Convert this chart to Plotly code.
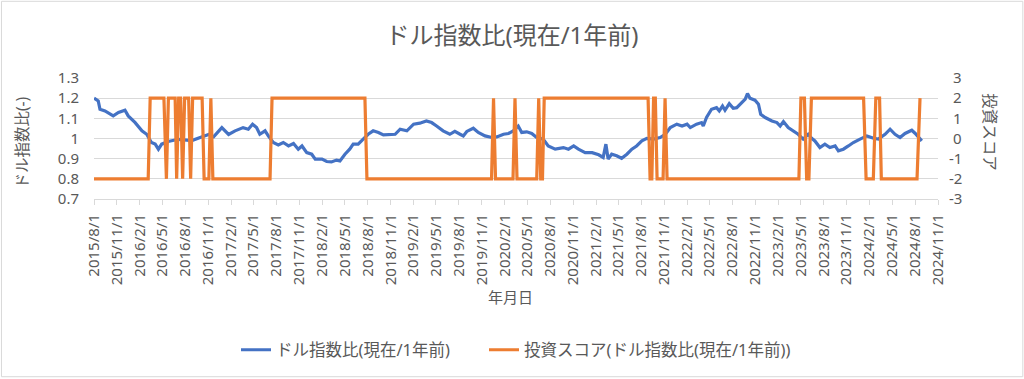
import plotly.graph_objects as go

# ---- data ----
ratio_dates = [
    "2015-08-01", "2015-08-18", "2015-08-25", "2015-09-14", "2015-10-17", "2015-11-07",
    "2015-12-03", "2015-12-16", "2016-01-12", "2016-02-09", "2016-02-28", "2016-03-18",
    "2016-04-02", "2016-04-15", "2016-04-28", "2016-05-24", "2016-07-04", "2016-08-27",
    "2016-09-29", "2016-11-02", "2016-11-22", "2016-12-25", "2017-01-21", "2017-02-16",
    "2017-03-20", "2017-04-10", "2017-04-27", "2017-05-13", "2017-05-26", "2017-06-16",
    "2017-06-29", "2017-07-19", "2017-08-08", "2017-08-28", "2017-09-18", "2017-10-08",
    "2017-10-27", "2017-11-11", "2017-11-30", "2017-12-20", "2018-01-03", "2018-01-30",
    "2018-02-18", "2018-03-09", "2018-03-29", "2018-04-12", "2018-05-02", "2018-05-21",
    "2018-06-04", "2018-06-24", "2018-07-14", "2018-08-03", "2018-08-23", "2018-09-13",
    "2018-10-03", "2018-10-30", "2018-11-19", "2018-12-09", "2019-01-05", "2019-02-01",
    "2019-02-26", "2019-03-24", "2019-04-14", "2019-05-04", "2019-05-30", "2019-06-26",
    "2019-07-16", "2019-08-06", "2019-08-19", "2019-09-02", "2019-09-28", "2019-10-18",
    "2019-11-14", "2019-12-11", "2019-12-31", "2020-01-27", "2020-02-16", "2020-03-06",
    "2020-03-26", "2020-04-09", "2020-04-29", "2020-05-19", "2020-06-08", "2020-07-04",
    "2020-07-24", "2020-08-21", "2020-09-23", "2020-10-13", "2020-11-03", "2020-11-22",
    "2020-12-19", "2021-01-16", "2021-02-11", "2021-03-01", "2021-03-12", "2021-03-21",
    "2021-04-04", "2021-04-24", "2021-05-14", "2021-06-04", "2021-06-24", "2021-07-13",
    "2021-08-03", "2021-08-23", "2021-09-19", "2021-10-15", "2021-11-05", "2021-11-25",
    "2021-12-21", "2022-01-11", "2022-01-31", "2022-02-13", "2022-03-10", "2022-03-30",
    "2022-04-06", "2022-04-19", "2022-05-09", "2022-05-29", "2022-06-09", "2022-06-22",
    "2022-07-02", "2022-07-19", "2022-08-04", "2022-08-18", "2022-09-08", "2022-09-21",
    "2022-09-30", "2022-10-10", "2022-10-30", "2022-11-13", "2022-11-22", "2022-12-10",
    "2023-01-06", "2023-01-26", "2023-02-08", "2023-02-21", "2023-03-12", "2023-04-01",
    "2023-04-21", "2023-05-11", "2023-05-31", "2023-06-14", "2023-06-27", "2023-07-17",
    "2023-08-06", "2023-08-26", "2023-09-16", "2023-09-29", "2023-10-19", "2023-11-08",
    "2023-11-28", "2023-12-25", "2024-01-21", "2024-02-17", "2024-03-07", "2024-04-03",
    "2024-04-23", "2024-05-13", "2024-06-02", "2024-06-22", "2024-07-19", "2024-08-02",
    "2024-08-15", "2024-08-28",
]
ratio_values = [
    1.200, 1.186, 1.145, 1.137, 1.112, 1.129,
    1.140, 1.112, 1.080, 1.038, 1.021, 0.980,
    0.972, 0.947, 0.972, 0.985, 0.996, 0.990,
    1.005, 1.020, 1.008, 1.054, 1.020, 1.038,
    1.054, 1.046, 1.071, 1.054, 1.021, 1.038,
    1.013, 0.980, 0.968, 0.980, 0.963, 0.975,
    0.947, 0.963, 0.930, 0.922, 0.898, 0.898,
    0.886, 0.884, 0.893, 0.889, 0.922, 0.947,
    0.972, 0.972, 0.997, 1.021, 1.038, 1.030,
    1.018, 1.021, 1.021, 1.046, 1.038, 1.071,
    1.076, 1.087, 1.079, 1.062, 1.038, 1.021,
    1.035, 1.021, 1.013, 1.035, 1.051, 1.030,
    1.013, 1.005, 1.008, 1.021, 1.025, 1.038,
    1.062, 1.030, 1.033, 1.025, 1.005, 0.997,
    0.963, 0.947, 0.955, 0.947, 0.963, 0.947,
    0.930, 0.930, 0.919, 0.906, 0.972, 0.898,
    0.922, 0.914, 0.902, 0.922, 0.947, 0.963,
    0.988, 1.001, 0.997, 1.005, 1.021, 1.054,
    1.071, 1.062, 1.071, 1.054, 1.071, 1.079,
    1.062, 1.104, 1.145, 1.153, 1.137, 1.161,
    1.140, 1.173, 1.150, 1.153, 1.178, 1.195,
    1.223, 1.200, 1.190, 1.170, 1.120, 1.104,
    1.087, 1.079, 1.062, 1.084, 1.054, 1.038,
    1.021, 0.997, 1.021, 1.001, 0.988, 0.955,
    0.972, 0.955, 0.963, 0.939, 0.947, 0.963,
    0.980, 0.997, 1.013, 1.001, 0.997, 1.021,
    1.046, 1.021, 1.005, 1.025, 1.041, 1.025,
    1.005, 0.988,
]

score_dates = [
    "2015-08-01", "2016-03-05", "2016-03-13", "2016-05-07", "2016-05-17", "2016-05-25",
    "2016-06-21", "2016-06-27", "2016-07-05", "2016-07-13", "2016-07-21", "2016-07-29",
    "2016-08-14", "2016-08-22", "2016-08-30", "2016-10-07", "2016-10-15", "2016-11-03",
    "2016-11-11", "2016-11-19", "2017-07-06", "2017-07-14", "2018-07-21", "2018-07-29",
    "2019-12-10", "2019-12-18", "2019-12-26", "2020-03-05", "2020-03-13", "2020-03-21",
    "2020-06-08", "2020-06-16", "2020-06-24", "2020-07-01", "2020-07-08", "2021-08-28",
    "2021-09-05", "2021-09-12", "2021-09-19", "2021-09-26", "2021-10-03", "2021-10-27",
    "2021-11-04", "2021-11-12", "2023-04-24", "2023-05-02", "2023-05-16", "2023-05-25",
    "2023-06-03", "2023-06-13", "2024-01-08", "2024-01-18", "2024-02-16", "2024-02-26",
    "2024-03-12", "2024-03-19", "2024-08-09", "2024-08-21",
]
score_values = [
    -2, -2, 2, 2, -2, 2,
    2, -2, 2, 2, -2, 2,
    2, -2, 2, 2, -2, -2,
    2, -2, -2, 2, 2, -2,
    -2, 2, -2, -2, 2, -2,
    -2, 2, -2, -2, 2, 2,
    -2, -2, 2, 2, -2, -2,
    2, -2, -2, 2, 2, -2,
    -2, 2, 2, -2, -2, 2,
    2, -2, -2, 2,
]

x_tick_dates = [
    "2015-08-01", "2015-11-01", "2016-02-01", "2016-05-01", "2016-08-01", "2016-11-01",
    "2017-02-01", "2017-05-01", "2017-08-01", "2017-11-01", "2018-02-01", "2018-05-01",
    "2018-08-01", "2018-11-01", "2019-02-01", "2019-05-01", "2019-08-01", "2019-11-01",
    "2020-02-01", "2020-05-01", "2020-08-01", "2020-11-01", "2021-02-01", "2021-05-01",
    "2021-08-01", "2021-11-01", "2022-02-01", "2022-05-01", "2022-08-01", "2022-11-01",
    "2023-02-01", "2023-05-01", "2023-08-01", "2023-11-01", "2024-02-01", "2024-05-01",
    "2024-08-01", "2024-11-01",
]
x_tick_labels = [
    "2015/8/1", "2015/11/1", "2016/2/1", "2016/5/1", "2016/8/1", "2016/11/1",
    "2017/2/1", "2017/5/1", "2017/8/1", "2017/11/1", "2018/2/1", "2018/5/1",
    "2018/8/1", "2018/11/1", "2019/2/1", "2019/5/1", "2019/8/1", "2019/11/1",
    "2020/2/1", "2020/5/1", "2020/8/1", "2020/11/1", "2021/2/1", "2021/5/1",
    "2021/8/1", "2021/11/1", "2022/2/1", "2022/5/1", "2022/8/1", "2022/11/1",
    "2023/2/1", "2023/5/1", "2023/8/1", "2023/11/1", "2024/2/1", "2024/5/1",
    "2024/8/1", "2024/11/1",
]
left_ticks = [0.7, 0.8, 0.9, 1.0, 1.1, 1.2, 1.3]
left_labels = ["0.7", "0.8", "0.9", "1", "1.1", "1.2", "1.3"]
right_ticks = [-3, -2, -1, 0, 1, 2, 3]
right_labels = ["-3", "-2", "-1", "\u00a00", "\u00a01", "\u00a02", "\u00a03"]

name_ratio = "ドル指数比(現在/1年前)"
name_score = "投資スコア(ドル指数比(現在/1年前))"
title_text = "ドル指数比(現在/1年前)"
x_title = "年月日"
y_title = "ドル指数比(-)"
y2_title = "投資スコア"

# ---- figure ----
FONT = "Noto Sans, Noto Sans CJK JP"
GRAY = "#595959"

fig = go.Figure()
fig.add_trace(go.Scatter(
    x=ratio_dates, y=ratio_values, name=name_ratio, mode="lines",
    line=dict(color="#4472C4", width=3.2), yaxis="y", legend="legend",
))
fig.add_trace(go.Scatter(
    x=score_dates, y=score_values, name=name_score, mode="lines",
    line=dict(color="#ED7D31", width=3.2), yaxis="y2", legend="legend2",
))

# plot area: x 94..937.7, y 78.3..199.5
L, R, T, B = 94, 86.3, 78.3, 179.5
W = 1024 - L - R
H = 379 - T - B

def px_x(p):
    return (p - L) / W

def px_y(p):
    return (379 - B - p) / H

legend_common = dict(
    orientation="h", xanchor="left", xref="container",
    y=1 - 350 / 379, yref="container", yanchor="middle",
    font=dict(size=16.5, color=GRAY, family=FONT),
    itemwidth=30, bgcolor="rgba(0,0,0,0)",
)

fig.update_layout(
    width=1024, height=379,
    margin=dict(l=L, r=R, t=T, b=B, autoexpand=False),
    paper_bgcolor="white", plot_bgcolor="white",
    font=dict(family=FONT, color=GRAY, size=15),
    title=dict(text=title_text, x=0.5, xref="container", xanchor="center",
               y=1 - 36 / 379, yref="container", yanchor="middle",
               font=dict(size=24, color=GRAY, family=FONT)),
    showlegend=True,
    legend=dict(x=236 / 1024, **legend_common),
    legend2=dict(x=484 / 1024, **legend_common),
    xaxis=dict(
        type="date", range=["2015-08-01", "2024-11-01"],
        tickvals=x_tick_dates, ticktext=x_tick_labels, tickangle=-90,
        tickfont=dict(size=15, color=GRAY, family=FONT),
        showgrid=False, zeroline=False,
        showline=True, linecolor="#D9D9D9", linewidth=1,
        ticks="outside", ticklen=5, tickcolor="#D9D9D9", tickwidth=1,
        ticklabelstandoff=3,
    ),
    yaxis=dict(
        range=[0.7, 1.3], tickvals=left_ticks, ticktext=left_labels,
        tickfont=dict(size=15, color=GRAY, family=FONT),
        showgrid=True, gridcolor="#D9D9D9", gridwidth=1,
        zeroline=False, showline=False, ticks="", ticklabelstandoff=14,
    ),
    yaxis2=dict(
        range=[-3, 3], tickvals=right_ticks, ticktext=right_labels,
        overlaying="y", side="right",
        tickfont=dict(size=15, color=GRAY, family=FONT),
        showgrid=False, zeroline=False, showline=False, ticks="",
        ticklabelstandoff=10,
    ),
    annotations=[
        dict(text=x_title, x=px_x(510), y=px_y(298), xref="paper", yref="paper",
             showarrow=False, xanchor="center", yanchor="middle",
             font=dict(size=15, color=GRAY, family=FONT)),
        dict(text=y_title, x=px_x(22), y=px_y(143), xref="paper", yref="paper",
             showarrow=False, xanchor="center", yanchor="middle", textangle=-90,
             font=dict(size=15.5, color=GRAY, family=FONT)),
        dict(text=y2_title, x=px_x(990), y=px_y(133), xref="paper", yref="paper",
             showarrow=False, xanchor="center", yanchor="middle", textangle=90,
             font=dict(size=15.5, color=GRAY, family=FONT)),
    ],
    shapes=[
        dict(type="rect", xref="paper", yref="paper",
             x0=px_x(1.5), x1=px_x(1022.5), y0=px_y(377.5), y1=px_y(1.5),
             line=dict(color="#D9D9D9", width=1), fillcolor="rgba(0,0,0,0)",
             layer="below"),
    ],
)

fig.write_html("out.html")
